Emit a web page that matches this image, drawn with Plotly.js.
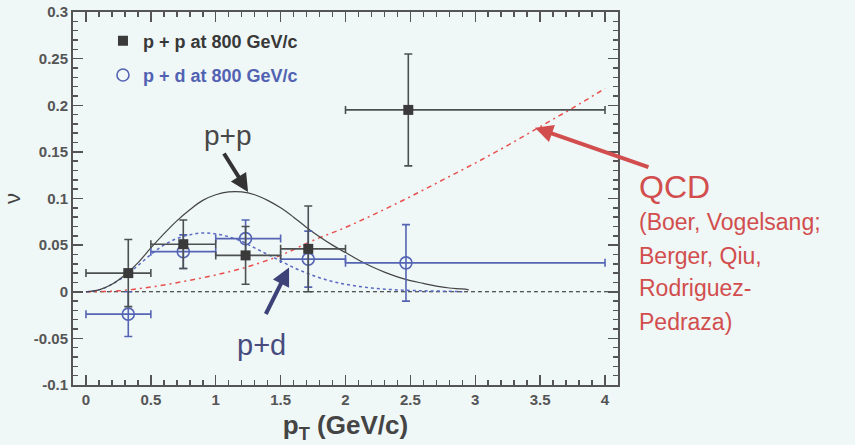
<!DOCTYPE html>
<html>
<head>
<meta charset="utf-8">
<script src="https://cdn.plot.ly/plotly-3.0.1.min.js"></script>
<style>
html,body{margin:0;padding:0;background:#eff7f7;}
#chart{width:855px;height:445px;}
</style>
</head>
<body>
<div id="chart"></div>
<script>
// ---- data ----
// p + p at 800 GeV/c (filled squares)
const ppX    = [0.326, 0.75, 1.23, 1.713, 2.484];
const ppY    = [0.020, 0.051, 0.039, 0.046, 0.195];
const ppYErr = [0.036, 0.026, 0.031, 0.046, 0.060];
// p + d at 800 GeV/c (open circles)
const pdX    = [0.326, 0.75, 1.23, 1.713, 2.466];
const pdY    = [-0.024, 0.043, 0.057, 0.035, 0.031];
const pdYErr = [0.024, 0.018, 0.020, 0.030, 0.041];
// pT bin edges (x error bars)
const binLo  = [0.0, 0.5, 1.0, 1.5, 2.0];
const binHi  = [0.5, 1.0, 1.5, 2.0, 4.0];

// model curve p+p (solid)
const ppCurveX = [0, 0.1, 0.2, 0.3, 0.4, 0.5, 0.6, 0.7, 0.8, 0.9, 1.0, 1.1, 1.2, 1.3, 1.4, 1.5, 1.6, 1.7, 1.8, 1.9, 2.0, 2.1, 2.2, 2.3, 2.4, 2.5, 2.6, 2.7, 2.8, 2.9, 2.95];
const ppCurveY = [0, 0.002, 0.008, 0.018, 0.031, 0.047, 0.062, 0.076, 0.088, 0.098, 0.104, 0.107, 0.107, 0.104, 0.098, 0.090, 0.080, 0.069, 0.059, 0.050, 0.042, 0.034, 0.027, 0.021, 0.016, 0.012, 0.009, 0.006, 0.004, 0.003, 0.002];
// model curve p+d (dotted)
const pdCurveX = [0, 0.1, 0.2, 0.3, 0.4, 0.5, 0.6, 0.7, 0.8, 0.9, 1.0, 1.1, 1.2, 1.3, 1.4, 1.5, 1.6, 1.7, 1.8, 1.9, 2.0, 2.2, 2.4, 2.6, 2.8, 2.9];
const pdCurveY = [0, 0.002, 0.008, 0.017, 0.028, 0.040, 0.050, 0.057, 0.061, 0.063, 0.062, 0.059, 0.054, 0.047, 0.040, 0.033, 0.026, 0.020, 0.015, 0.011, 0.008, 0.004, 0.002, 0.001, 0.0005, 0.0];
// QCD curve (dash-dot)
const qcdX = [0, 0.25, 0.5, 0.75, 1.0, 1.25, 1.5, 1.75, 2.0, 2.25, 2.5, 2.75, 3.0, 3.25, 3.5, 3.75, 4.0];
const qcdY = [0, 0.001, 0.005, 0.011, 0.018, 0.027, 0.039, 0.055, 0.069, 0.085, 0.102, 0.120, 0.138, 0.157, 0.177, 0.197, 0.218];
// zero reference line
const zeroX = [0, 4.07];
const zeroY = [0, 0];

const qcdLines = ["(Boer, Vogelsang;", "Berger, Qiu,", "Rodriguez-", "Pedraza)"];

// ---- styles ----
const FONT = "Liberation Sans, Arial, sans-serif";
const BLACK = "#3a3a3a";
const ERRGRAY = "#4c5050";
const BLUE = "#5565b4";
const RED = "#d24e4e";

const plus = (c, hi) => hi.map((h, i) => h - c[i]);
const minus = (c, lo) => lo.map((l, i) => c[i] - l);

const traces = [
  {x: zeroX, y: zeroY, mode: "lines", line: {color: "#222", width: 1, dash: "4px,3px"}, showlegend: false, hoverinfo: "skip"},
  {x: qcdX, y: qcdY, mode: "lines", line: {color: "#e8504e", width: 1.5, dash: "5px,4px,2px,4px", shape: "spline"}, showlegend: false},
  {x: pdCurveX, y: pdCurveY, mode: "lines", line: {color: "#5a6ac4", width: 1.5, dash: "dot", shape: "spline"}, showlegend: false},
  {x: ppCurveX, y: ppCurveY, mode: "lines", line: {color: "#444", width: 1.2, shape: "spline"}, showlegend: false},
  {
    x: pdX, y: pdY, mode: "markers", name: '<b><span style="color:#5262b2">p + d at 800 GeV/c</span></b>',
    legendgroup: "pd", legendrank: 2,
    marker: {symbol: "circle-open", size: 12, color: BLUE, line: {width: 1.6, color: BLUE}},
    error_y: {type: "data", array: pdYErr, color: BLUE, thickness: 1.6, width: 4},
    error_x: {type: "data", array: plus(pdX, binHi), arrayminus: minus(pdX, binLo), color: BLUE, thickness: 1.6, width: 4}
  },
  {
    x: ppX, y: ppY, mode: "markers", name: '<b><span style="color:#383838">p + p at 800 GeV/c</span></b>',
    legendgroup: "pp", legendrank: 1,
    marker: {symbol: "square", size: 10, color: BLACK},
    error_y: {type: "data", array: ppYErr, color: ERRGRAY, thickness: 1.6, width: 4},
    error_x: {type: "data", array: plus(ppX, binHi), arrayminus: minus(ppX, binLo), color: ERRGRAY, thickness: 1.6, width: 4}
  }
];

const annotations = [
  {x: 1.094, y: 0.168, xref: "x", yref: "y", text: "p+p", showarrow: false, font: {family: FONT, size: 28, color: "#474747"}},
  {x: 1.356, y: -0.057, xref: "x", yref: "y", text: "p+d", showarrow: false, font: {family: FONT, size: 29, color: "#474b7e"}},
  {x: 1.035, y: 0.531, xref: "paper", yref: "paper", xanchor: "left", yanchor: "middle", text: "QCD", showarrow: false, font: {family: FONT, size: 32, color: RED}},
  // arrows
  {x: 1.249, y: 0.107, xref: "x", yref: "y", text: "", showarrow: true, ax: -25, ay: -40, arrowhead: 2, arrowsize: 0.9, arrowwidth: 4, arrowcolor: "#333"},
  {x: 1.565, y: 0.026, xref: "x", yref: "y", text: "", showarrow: true, ax: -24, ay: 48, arrowhead: 2, arrowsize: 0.9, arrowwidth: 4, arrowcolor: "#3d4278"},
  {x: 3.46, y: 0.176, xref: "x", yref: "y", text: "", showarrow: true, ax: 115, ay: 40, arrowhead: 2, arrowsize: 0.9, arrowwidth: 4, arrowcolor: RED}
];
const lineY = [0.4378, 0.3458, 0.260, 0.1697];
qcdLines.forEach((t, i) => annotations.push({
  x: 1.035, y: lineY[i], xref: "paper", yref: "paper", xanchor: "left", yanchor: "middle",
  text: t, showarrow: false, font: {family: FONT, size: 23, color: RED}
}));

const axisCommon = {
  showgrid: false, zeroline: false, showline: true, linecolor: "#555", linewidth: 2, mirror: "allticks",
  ticks: "inside", ticklen: 10, tickwidth: 1.5, tickcolor: "#555",
  tickfont: {family: FONT, size: 15, color: "#555", weight: "bold"}
};

const layout = {
  width: 855, height: 445,
  margin: {l: 73, r: 237, t: 12, b: 60},
  paper_bgcolor: "#eff7f7", plot_bgcolor: "#eff7f7",
  font: {family: FONT},
  showlegend: true,
  legend: {x: 0.055, y: 0.972, xanchor: "left", yanchor: "top", bgcolor: "rgba(0,0,0,0)", traceorder: "grouped",
           tracegroupgap: 8, font: {family: FONT, size: 18}},
  xaxis: Object.assign({}, axisCommon, {
    range: [-0.1, 4.1], tickvals: [0, 0.5, 1, 1.5, 2, 2.5, 3, 3.5, 4], ticktext: ["0", "0.5", "1", "1.5", "2", "2.5", "3", "3.5", "4"],
    minor: {dtick: 0.1, tick0: 0, ticks: "inside", ticklen: 5, tickcolor: "#555", tickwidth: 1.5},
    title: {text: "<b>p<sub>T</sub> (GeV/c)</b>", font: {family: FONT, size: 26, color: "#444"}, standoff: 9}
  }),
  yaxis: Object.assign({}, axisCommon, {
    range: [-0.1, 0.3], tickvals: [-0.1, -0.05, 0, 0.05, 0.1, 0.15, 0.2, 0.25, 0.3],
    ticktext: ["-0.1", "-0.05", "0", "0.05", "0.1", "0.15", "0.2", "0.25", "0.3"],
    minor: {dtick: 0.01, tick0: 0, ticks: "inside", ticklen: 5, tickcolor: "#555", tickwidth: 1.5},
    title: {text: "ν", font: {family: FONT, size: 22, color: "#444"}, standoff: 10}
  }),
  annotations: annotations
};

Plotly.newPlot("chart", traces, layout, {displayModeBar: false, staticPlot: true});
</script>
</body>
</html>
